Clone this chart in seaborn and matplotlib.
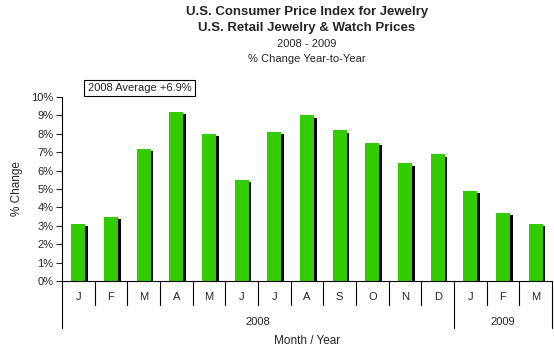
import matplotlib
matplotlib.use("Agg")
import matplotlib.pyplot as plt
import matplotlib.transforms as mtransforms
import seaborn as sns
import pandas as pd

months = ["J", "F", "M", "A", "M", "J", "J", "A", "S", "O", "N", "D", "J", "F", "M"]
years = ["2008"] * 12 + ["2009"] * 3
pct_change = [3.1, 3.5, 7.2, 9.2, 8.0, 5.5, 8.1, 9.0, 8.2, 7.5, 6.4, 6.9, 4.9, 3.7, 3.1]
yticks = [0, 1, 2, 3, 4, 5, 6, 7, 8, 9, 10]
avg_label = "2008 Average +6.9%"

df = pd.DataFrame({"slot": range(len(months)), "month": months,
                   "year": years, "value": pct_change})

sns.set_style("white")
plt.rcParams["font.family"] = ["Liberation Sans", "DejaVu Sans"]

W, H, DPI = 554, 347, 100
fig = plt.figure(figsize=(W / DPI, H / DPI), dpi=DPI)
ax = fig.add_axes([62 / W, 1 - 281 / H, 490 / W, 184 / H])

# shadow bars, shifted a couple of pixels right/down and clipped at the baseline
sns.barplot(data=df, x="slot", y="value", color="black", width=0.43,
            saturation=1, ax=ax)
shadow = mtransforms.offset_copy(ax.transData, fig=fig, x=2.5, y=-2.5, units="dots")
n_shadow = len(ax.patches)
for p in ax.patches:
    p.set_transform(shadow)
    p.set_clip_on(True)
    p.set_edgecolor("none")
sns.barplot(data=df, x="slot", y="value", color="#33CC00", width=0.43,
            saturation=1, ax=ax)
for p in ax.patches[n_shadow:]:
    p.set_edgecolor("none")

ax.set_xlim(-0.5, len(months) - 0.5)
ax.set_ylim(0, 10)
ax.set_yticks(yticks)
ax.set_yticklabels([f"{v}%" for v in yticks], fontsize=8)
ax.tick_params(axis="y", direction="out", length=4, width=0.8, pad=2, left=True)
ax.set_xticks([])
ax.set_xlabel("")
ax.set_ylabel("% Change", fontsize=8.5, labelpad=6)
for s in ["top", "right"]:
    ax.spines[s].set_visible(False)
for s in ["left", "bottom"]:
    ax.spines[s].set_color("black")
    ax.spines[s].set_linewidth(0.8)
    ax.spines[s].set_zorder(5)

# two-level category axis below the plot
bt = mtransforms.blended_transform_factory(ax.transData, fig.transFigure)
y0 = 1 - 281 / H
y_month = 1 - 305 / H
y_year = 1 - 328 / H
for i in range(len(months) + 1):
    xb = i - 0.5
    long_line = i in (0, 12, len(months))
    ax.plot([xb, xb], [y0, y_year if long_line else y_month], transform=bt,
            color="black", lw=0.8, clip_on=False)
for i, m in enumerate(months):
    ax.text(i, 1 - 297 / H, m, transform=bt, ha="center", va="center", fontsize=8)
year_names = list(dict.fromkeys(years))
for yname in year_names:
    idx = [i for i, yv in enumerate(years) if yv == yname]
    ax.text((idx[0] + idx[-1]) / 2, 1 - 322 / H, yname, transform=bt,
            ha="center", va="center", fontsize=8)
fig.text(0.5 * (62 + 552) / W, 1 - 341 / H, "Month / Year", ha="center",
         va="center", fontsize=8.5)

# titles
fig.text(307 / W, 1 - 12 / H, "U.S. Consumer Price Index for Jewelry",
         ha="center", va="center", fontsize=9.5, fontweight="bold")
fig.text(307 / W, 1 - 28 / H, "U.S. Retail Jewelry & Watch Prices",
         ha="center", va="center", fontsize=9.5, fontweight="bold")
fig.text(307 / W, 1 - 44 / H, "2008 - 2009", ha="center", va="center", fontsize=8)
fig.text(307 / W, 1 - 59 / H, "% Change Year-to-Year", ha="center",
         va="center", fontsize=8)

fig.text(139.5 / W, 1 - 88 / H, avg_label, ha="center", va="center", fontsize=8,
         bbox=dict(boxstyle="square,pad=0.3", facecolor="white",
                   edgecolor="black", linewidth=0.8))

fig.savefig("out.png", dpi=DPI)
